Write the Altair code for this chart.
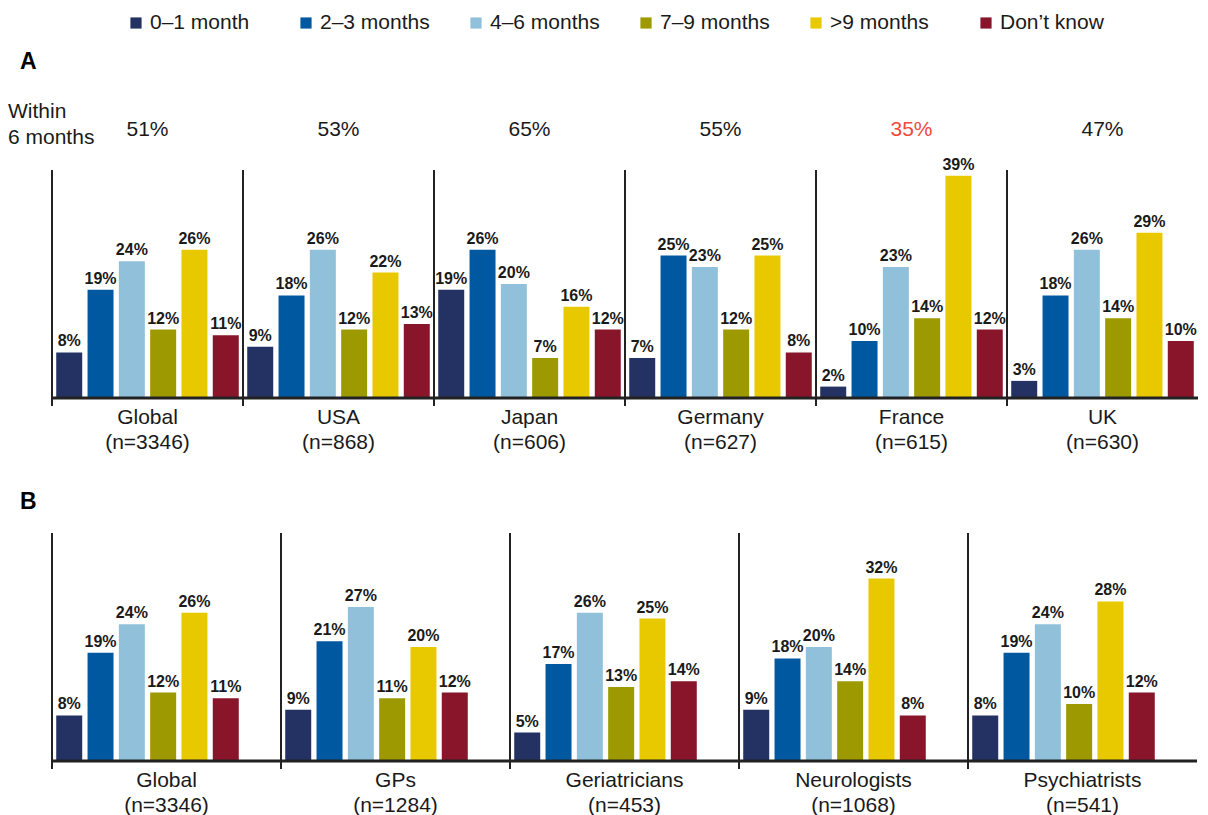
import altair as alt
import pandas as pd

cats = ["0–1 month", "2–3 months", "4–6 months", "7–9 months", ">9 months", "Don’t know"]
colors = ["#233163", "#0058a0", "#91c1da", "#9c9a00", "#e8c900", "#88152a"]

# Panel A: by country
groups_a = ["Global", "USA", "Japan", "Germany", "France", "UK"]
n_a = ["(n=3346)", "(n=868)", "(n=606)", "(n=627)", "(n=615)", "(n=630)"]
within_a = [51, 53, 65, 55, 35, 47]
global_a = [8, 19, 24, 12, 26, 11]
usa = [9, 18, 26, 12, 22, 13]
japan = [19, 26, 20, 7, 16, 12]
germany = [7, 25, 23, 12, 25, 8]
france = [2, 10, 23, 14, 39, 12]
uk = [3, 18, 26, 14, 29, 10]
vals_a = [global_a, usa, japan, germany, france, uk]

# Panel B: by specialty
groups_b = ["Global ", "GPs", "Geriatricians", "Neurologists", "Psychiatrists"]
names_b = ["Global", "GPs", "Geriatricians", "Neurologists", "Psychiatrists"]
n_b = ["(n=3346)", "(n=1284)", "(n=453)", "(n=1068)", "(n=541)"]
global_b = [8, 19, 24, 12, 26, 11]
gps = [9, 21, 27, 11, 20, 12]
geriatricians = [5, 17, 26, 13, 25, 14]
neurologists = [9, 18, 20, 14, 32, 8]
psychiatrists = [8, 19, 24, 10, 28, 12]
vals_b = [global_b, gps, geriatricians, neurologists, psychiatrists]

FONT = "Liberation Sans"
TXT = "#1a1a1a"
H = 228
WA = 1146
WB = 1145


def long_df(groups, vals):
    rows = []
    for g, vs in zip(groups, vals):
        for c, v in zip(cats, vs):
            rows.append({"group": g, "cat": c, "value": v, "label": f"{v}%"})
    return pd.DataFrame(rows)


def textchart(t, x, y, size=21, weight="normal", color=TXT):
    return alt.Chart(pd.DataFrame({"t": [t]})).mark_text(
        fontSize=size, fontWeight=weight, align="left", baseline="middle", color=color
    ).encode(x=alt.value(x), y=alt.value(y), text="t:N")


def panel(groups, names, ns, vals, width, pin, pout, extra):
    df = long_df(groups, vals)
    gdf = pd.DataFrame({"group": groups, "name": names, "n": ns})
    xg = alt.X("group:N", scale=alt.Scale(domain=groups, paddingInner=0, paddingOuter=0), axis=None)
    xo = alt.XOffset("cat:N", scale=alt.Scale(domain=cats, paddingInner=pin, paddingOuter=pout))
    yv = alt.Y("value:Q", scale=alt.Scale(domain=[0, 40], nice=False, zero=True), axis=None)

    bars = alt.Chart(df).mark_bar().encode(
        x=xg, xOffset=xo, y=yv,
        color=alt.Color("cat:N", scale=alt.Scale(domain=cats, range=colors), legend=None),
    )
    vtext = alt.Chart(df).mark_text(baseline="bottom", dy=-3, fontSize=16, fontWeight="bold",
                                    color=TXT).encode(
        x=xg, xOffset=xo, y=yv, text="label:N"
    )
    seps = alt.Chart(gdf).mark_rule(strokeWidth=2, color="#222222").encode(
        x=alt.X("group:N", bandPosition=0), y=alt.value(0), y2=alt.value(H + 8)
    )
    base = alt.Chart(gdf.head(1)).mark_rule(strokeWidth=3, color="#222222").encode(
        x=alt.value(0), x2=alt.value(width), y=alt.value(H)
    )
    gname = alt.Chart(gdf).mark_text(fontSize=21, baseline="middle", color=TXT).encode(
        x=alt.X("group:N"), y=alt.value(H + 20), text="name:N"
    )
    gn = alt.Chart(gdf).mark_text(fontSize=21, baseline="middle", color=TXT).encode(
        x=alt.X("group:N"), y=alt.value(H + 45), text="n:N"
    )
    return alt.layer(bars, vtext, seps, base, gname, gn, *extra).properties(width=width, height=H)


wdf = pd.DataFrame({"group": groups_a, "w": [f"{w}%" for w in within_a]})
w_black = alt.Chart(wdf).transform_filter(alt.datum.group != "France").mark_text(
    fontSize=21, baseline="middle", color=TXT
).encode(x=alt.X("group:N"), y=alt.value(-40), text="w:N")
w_red = alt.Chart(wdf).transform_filter(alt.datum.group == "France").mark_text(
    fontSize=21, baseline="middle", color="#f0493d"
).encode(x=alt.X("group:N"), y=alt.value(-40), text="w:N")

chart_a = panel(groups_a, groups_a, n_a, vals_a, WA, 0.17, 0.135, [
    w_black, w_red,
    textchart("A", -32, -108, 23, "bold", "#000000"),
    textchart("Within", -44, -58),
    textchart("6 months", -44, -32),
])

chart_b = panel(groups_b, names_b, n_b, vals_b, WB, 0.28, 0.35, [
    textchart("B", -32, -31, 23, "bold", "#000000"),
])

# legend row, placed through a point scale over the category list
ldf = pd.DataFrame({"cat": cats})
lx = alt.X("cat:N", scale=alt.Scale(type="point", domain=cats, range=[84, 934], padding=0), axis=None)
leg_sq = alt.Chart(ldf).mark_square(size=125, opacity=1).encode(
    x=lx, y=alt.value(10),
    color=alt.Color("cat:N", scale=alt.Scale(domain=cats, range=colors), legend=None),
)
leg_tx = alt.Chart(ldf).mark_text(fontSize=21, align="left", baseline="middle", dx=14, color=TXT).encode(
    x=lx, y=alt.value(10), text="cat:N"
)
legend_row = alt.layer(leg_sq, leg_tx).properties(width=WA, height=20)

chart = (
    alt.vconcat(alt.vconcat(legend_row, chart_a, spacing=18), chart_b, spacing=38)
    .properties(padding={"top": 4, "left": 0, "right": 0, "bottom": 0})
    .configure(font=FONT)
    .configure_view(stroke=None)
)

chart.save("out.html", embed_options={"renderer": "svg", "actions": False})
